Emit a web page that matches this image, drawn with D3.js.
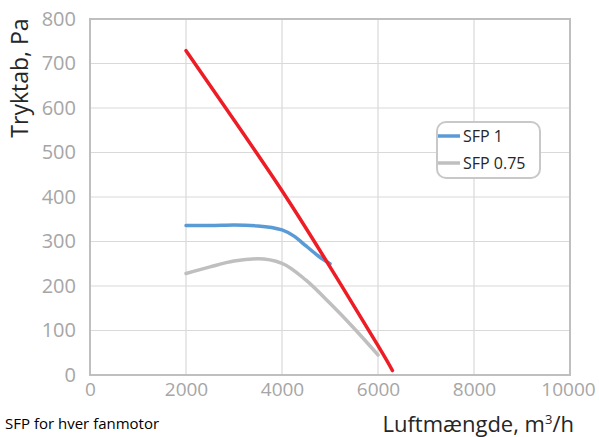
<!DOCTYPE html>
<html><head><meta charset="utf-8">
<script src="https://cdn.jsdelivr.net/npm/d3@7"></script>
<style>body{margin:0;background:#fff}svg{display:block}</style>
</head><body>
<svg id="c" width="599" height="437"></svg>
<script>
const xTicks = [0, 2000, 4000, 6000, 8000, 10000];
const yTicks = [0, 100, 200, 300, 400, 500, 600, 700, 800];
const redX = [2000, 3000, 4000, 5000, 6000, 6300];
const redY = [729, 573, 414, 243, 66, 10];
const sfp1X = [2000, 2500, 3000, 3500, 4000, 4250, 4500, 4750, 5000];
const sfp1Y = [336, 336, 337, 335, 326, 312, 290, 268, 250];
const sfp075X = [2000, 2500, 3000, 3500, 4000, 4500, 5000, 5500, 6000];
const sfp075Y = [228, 243, 256, 261, 251, 213, 161, 105, 45];
const legendNames = ["SFP 1", "SFP 0.75"];

const svg = d3.select("#c");
const L = 90, R = 570, T = 19, B = 375;
const x = d3.scaleLinear().domain([0, 10000]).range([L, R]);
const y = d3.scaleLinear().domain([0, 800]).range([B, T]);

// gridlines
const g = svg.append("g");
g.selectAll(".vx").data(xTicks).join("line")
  .attr("x1", d => x(d)).attr("x2", d => x(d)).attr("y1", T).attr("y2", B)
  .attr("stroke", "#d9d9d9").attr("stroke-width", 1.2);
g.selectAll(".hy").data(yTicks).join("line")
  .attr("y1", d => y(d)).attr("y2", d => y(d)).attr("x1", L).attr("x2", R)
  .attr("stroke", "#d9d9d9").attr("stroke-width", 1.2);
svg.append("rect").attr("x", L).attr("y", T).attr("width", R - L).attr("height", B - T)
  .attr("fill", "none").attr("stroke", "#bfbfbf").attr("stroke-width", 2);

// axes (labels only)
const font = "'Open Sans', 'Noto Sans', sans-serif";
const yAxis = d3.axisLeft(y).tickValues(yTicks).tickFormat(d3.format("d")).tickSize(0).tickPadding(14);
const ya = svg.append("g").attr("transform", `translate(${L},0)`).call(yAxis);
ya.select(".domain").remove();
ya.selectAll("text").attr("fill", "#a6a6a6").style("font-size", "20px").style("font-family", font);
const xAxis = d3.axisBottom(x).tickValues(xTicks).tickFormat(d3.format("d")).tickSize(0).tickPadding(8);
const xa = svg.append("g").attr("transform", `translate(0,${B})`).call(xAxis);
xa.select(".domain").remove();
xa.selectAll("text").attr("fill", "#a6a6a6").style("font-size", "19px").style("font-family", font)
  .attr("dx", d => d === 10000 ? -2 : 0);

// titles
svg.append("text").attr("transform", `translate(28,78) rotate(-90)`)
  .attr("text-anchor", "middle").attr("fill", "#262626")
  .style("font-size", "23px").style("font-family", font).text("Tryktab, Pa");
const xt = svg.append("text").attr("x", 574).attr("y", 432).attr("text-anchor", "end")
  .attr("fill", "#262626").style("font-size", "22px").style("font-family", font);
xt.append("tspan").text("Luftmængde, m");
xt.append("tspan").attr("dy", -8).style("font-size", "13px").text("3");
xt.append("tspan").attr("dy", 8).text("/h");
svg.append("text").attr("x", 5).attr("y", 429).attr("fill", "#000")
  .style("font-size", "15px").style("font-family", font).text("SFP for hver fanmotor");

// lines
function draw(xs, ys, color, curve) {
  const line = d3.line().x(d => x(d[0])).y(d => y(d[1])).curve(curve);
  svg.append("path").datum(xs.map((v, i) => [v, ys[i]]))
    .attr("d", line).attr("fill", "none").attr("stroke", color)
    .attr("stroke-width", 3.5).attr("stroke-linecap", "round");
}
draw(sfp075X, sfp075Y, "#bfbfbf", d3.curveMonotoneX);
draw(sfp1X, sfp1Y, "#5b9bd5", d3.curveMonotoneX);
draw(redX, redY, "#ee1c25", d3.curveNatural);

// legend
const lg = svg.append("g");
lg.append("rect").attr("x", 437).attr("y", 122).attr("width", 103).attr("height", 56)
  .attr("rx", 9).attr("fill", "#fff").attr("stroke", "#c8c8c8").attr("stroke-width", 2);
const lc = ["#5b9bd5", "#bfbfbf"];
legendNames.forEach((n, i) => {
  const yy = 136 + i * 27;
  lg.append("line").attr("x1", 438).attr("x2", 460).attr("y1", yy).attr("y2", yy)
    .attr("stroke", lc[i]).attr("stroke-width", 3.5);
  lg.append("text").attr("x", 463).attr("y", yy + 6).attr("fill", "#262626")
    .style("font-size", "16px").style("font-family", font).text(n);
});
</script>
</body></html>
